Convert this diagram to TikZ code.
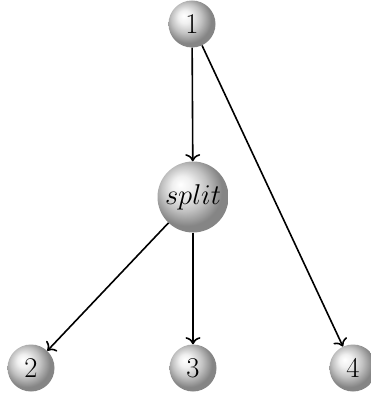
\documentclass[tikz,border=0pt]{standalone}
\usepackage{graphicx}
\usetikzlibrary{arrows.meta}
% soft grey sphere: white highlight towards the upper left, darker rim
\pgfdeclareradialshading{greysphere}{\pgfpoint{-9bp}{9bp}}{%
  color(0bp)=(white);
  color(7bp)=(black!6);
  color(16bp)=(black!24);
  color(25bp)=(black!48);
  color(50bp)=(black!48)}
\newcommand{\balltext}[1]{\scalebox{1.15}{#1}}
\begin{document}
\begin{tikzpicture}[x=1pt,y=-1pt,
  ball/.style={circle,shading=greysphere,minimum size=47pt,inner sep=0pt,
    font=\fontsize{24.88}{30}\selectfont},
  bigball/.style={ball,minimum size=71pt},
  link/.style={-{To[scale=1.4]},line width=1.6pt}]
  \useasboundingbox (0,0) rectangle (371,398);
  \node[ball] (n1) at (192,24) {\balltext{1}};
  \node[bigball] (split) at (193,197) {\balltext{$split$}};
  \node[ball] (n2) at (31,368) {\balltext{2}};
  \node[ball] (n3) at (193,368) {\balltext{3}};
  \node[ball] (n4) at (353,368) {\balltext{4}};
  \draw[link] (n1) -- (split);
  \draw[link] (n1) -- (n4);
  \draw[link] (split) -- (n2);
  \draw[link] (split) -- (n3);
\end{tikzpicture}
\end{document}
